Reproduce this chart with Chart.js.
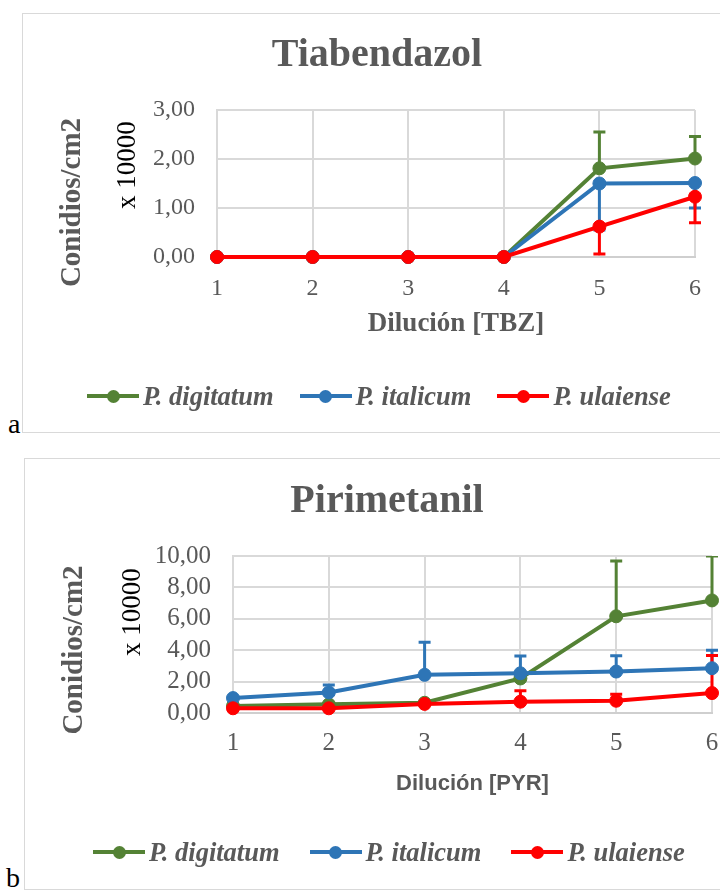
<!DOCTYPE html>
<html lang="es">
<head>
<meta charset="utf-8">
<title>Conidios/cm2 - Tiabendazol y Pirimetanil</title>
<script src="https://cdn.jsdelivr.net/npm/chart.js@4.4.1/dist/chart.umd.min.js"></script>
<style>
  html, body { margin: 0; padding: 0; background: #fff; }
  body { width: 720px; height: 890px; overflow: hidden; position: relative; font-family: "Liberation Serif", serif; }
  .frame { position: absolute; border: 1px solid #d9d9d9; background: #fff; }
  .frame canvas { display: block; }
  .legend { position: absolute; display: flex; align-items: center; height: 30px; line-height: 30px;
            font: italic bold 26.5px "Liberation Serif", serif; color: #595959; white-space: nowrap; }
  .legend .item { display: flex; align-items: center; }
  .legend .mark { position: relative; width: 52px; height: 4px; margin-right: 4px; }
  .legend .mark::after { content: ""; position: absolute; left: 19.5px; top: -4.5px; width: 13px; height: 13px;
                         border-radius: 50%; background: inherit; }
  .panel-label { position: absolute; font: 28px/28px "Liberation Serif", serif; color: #000; }
</style>
</head>
<body>

<div class="panel-label" style="left:8px; top:410px;">a</div>
<div class="frame" style="left:22px; top:13px;"><canvas id="chart-tbz" width="708" height="418"></canvas></div>
<div class="legend" id="legend-tbz" style="left:87px; top:381px;"></div>

<div class="panel-label" style="left:6px; top:864px;">b</div>
<div class="frame" style="left:24px; top:458px;"><canvas id="chart-pyr" width="724" height="430"></canvas></div>
<div class="legend" id="legend-pyr" style="left:93px; top:837px;"></div>

<script>
/* ---------- data ---------- */
const dilutions = ["1", "2", "3", "4", "5", "6"];
const speciesNames = ["P. digitatum", "P. italicum", "P. ulaiense"];
const speciesColors = ["#548235", "#2E75B6", "#FF0000"];

// Tiabendazol [TBZ]
const tbzDigitatum = [0, 0, 0, 0, 1.81, 2.01];
const tbzItalicum  = [0, 0, 0, 0, 1.50, 1.51];
const tbzUlaiense  = [0, 0, 0, 0, 0.62, 1.23];
const tbzDigitatumErrUp   = [0, 0, 0, 0, 0.74, 0.45];
const tbzItalicumErrDown  = [0, 0, 0, 0, 0.95, 0.51];
const tbzUlaienseErrDown  = [0, 0, 0, 0, 0.56, 0.53];
const tbzYTicks = [0, 1, 2, 3];

// Pirimetanil [PYR]
const pyrDigitatum = [0.45, 0.55, 0.65, 2.20, 6.16, 7.17];
const pyrItalicum  = [0.95, 1.31, 2.43, 2.53, 2.64, 2.85];
const pyrUlaiense  = [0.30, 0.30, 0.58, 0.72, 0.78, 1.27];
const pyrDigitatumErrUp = [0, 0, 0, 0, 3.52, 2.83];
const pyrItalicumErrUp  = [0, 0.48, 2.07, 1.10, 1.01, 1.14];
const pyrUlaienseErrUp  = [0, 0, 0, 0.69, 0.42, 2.40];
const pyrYTicks = [0, 2, 4, 6, 8, 10];

const TEXT = "#595959";
const GRID = "#d9d9d9";
const SERIF = "'Liberation Serif', serif";

Chart.defaults.font.family = SERIF;

/* error bars drawn under the lines, from the y scale */
const errorBars = {
  id: "errorBars",
  beforeDatasetsDraw(chart) {
    const { ctx, chartArea: a, scales: { y } } = chart;
    ctx.save();
    ctx.beginPath();
    ctx.rect(a.left - 20, a.top, a.right - a.left + 40, a.bottom - a.top + 20);
    ctx.clip();
    chart.data.datasets.forEach((ds, i) => {
      const pts = chart.getDatasetMeta(i).data;
      ctx.strokeStyle = ds.borderColor;
      ctx.lineWidth = 3;
      ds.data.forEach((v, j) => {
        [[ds.errUp, 1], [ds.errDown, -1]].forEach(([arr, sign]) => {
          if (!arr || !arr[j]) return;
          const x = pts[j].x;
          const y0 = y.getPixelForValue(v);
          const y1 = y.getPixelForValue(v + sign * arr[j]);
          ctx.beginPath();
          ctx.moveTo(x, y0); ctx.lineTo(x, y1);
          ctx.moveTo(x - 6, y1); ctx.lineTo(x + 6, y1);
          ctx.stroke();
        });
      });
    });
    ctx.restore();
  }
};

/* two-line vertical axis title (different styles per line) */
const sideTitle = {
  id: "sideTitle",
  afterDraw(chart, args, opts) {
    const ctx = chart.ctx;
    (opts.lines || []).forEach(l => {
      ctx.save();
      ctx.translate(l.x, l.y);
      ctx.rotate(-Math.PI / 2);
      ctx.font = l.font;
      ctx.fillStyle = l.color;
      ctx.textAlign = "center";
      ctx.textBaseline = "middle";
      ctx.fillText(l.text, 0, 0);
      ctx.restore();
    });
  }
};

function lineSet(idx, data, errUp, errDown){
  const c = speciesColors[idx];
  return {
    label: speciesNames[idx], data, errUp, errDown,
    borderColor: c, backgroundColor: c,
    pointBackgroundColor: c, pointBorderColor: c,
    borderWidth: 4, pointRadius: 6.5, pointBorderWidth: 1,
    tension: 0, clip: false, order: 3 - idx
  };
}

function makeChart(id, o){
  const step = o.yTicks[1] - o.yTicks[0];
  return new Chart(document.getElementById(id), {
    type: "line",
    data: { labels: dilutions, datasets: o.datasets },
    plugins: [errorBars, sideTitle],
    options: {
      responsive: false,
      animation: false,
      layout: { padding: { left: o.padLeft, top: 0, right: o.padRight, bottom: o.padBottom } },
      plugins: {
        legend: { display: false },
        tooltip: { enabled: false },
        title: {
          display: true, text: o.title, color: TEXT,
          font: { family: SERIF, size: 40, weight: "bold" },
          padding: { top: o.titleTop, bottom: 30 }
        },
        sideTitle: {
          lines: [
            { text: "Conidios/cm2", font: "bold 29px " + SERIF, color: TEXT, x: 50, y: o.yTitleY },
            { text: "x 10000", font: "27px " + SERIF, color: "#000", x: o.xTenX, y: o.xTenY }
          ]
        }
      },
      scales: {
        x: {
          grid: { color: GRID, lineWidth: 2, drawTicks: false },
          border: { color: "#cfcfcf", width: 2 },
          ticks: { color: TEXT, font: { size: o.tickSize }, padding: o.xTickPad, maxRotation: 0, autoSkip: false },
          title: { display: true, text: o.xTitle, color: TEXT, font: o.xTitleFont, padding: 0 },
          afterFit: s => { s.height = o.xHeight; }
        },
        y: {
          min: o.yTicks[0], max: o.yTicks[o.yTicks.length - 1],
          grid: { color: GRID, lineWidth: 2, drawTicks: false },
          border: { color: GRID, width: 2 },
          ticks: {
            stepSize: step, autoSkip: false, color: TEXT, font: { size: o.tickSize }, padding: 22,
            callback: v => v.toFixed(2).replace(".", ",")
          },
          afterFit: s => { s.width = o.yWidth; }
        }
      }
    }
  });
}

function makeLegend(id, gap){
  const el = document.getElementById(id);
  speciesNames.forEach((name, i) => {
    const item = document.createElement("span");
    item.className = "item";
    if (i < speciesNames.length - 1) item.style.marginRight = gap + "px";
    const mark = document.createElement("span");
    mark.className = "mark";
    mark.style.background = speciesColors[i];
    const txt = document.createElement("span");
    txt.textContent = name;
    item.appendChild(mark);
    item.appendChild(txt);
    el.appendChild(item);
  });
}

makeChart("chart-tbz", {
  title: "Tiabendazol",
  xTitle: "Dilución [TBZ]",
  xTitleFont: { family: SERIF, size: 27, weight: "bold" },
  yTicks: tbzYTicks,
  datasets: [
    lineSet(0, tbzDigitatum, tbzDigitatumErrUp, null),
    lineSet(1, tbzItalicum, null, tbzItalicumErrDown),
    lineSet(2, tbzUlaiense, null, tbzUlaienseErrDown)
  ],
  titleTop: 18, padLeft: 36, padRight: 36, padBottom: 92,
  yWidth: 158, xHeight: 83, xTickPad: 17, tickSize: 24,
  yTitleY: 188.5, xTenX: 104.5, xTenY: 151
});

makeChart("chart-pyr", {
  title: "Pirimetanil",
  xTitle: "Dilución [PYR]",
  xTitleFont: { family: "'Liberation Sans', sans-serif", size: 22, weight: "bold" },
  yTicks: pyrYTicks,
  datasets: [
    lineSet(0, pyrDigitatum, pyrDigitatumErrUp, null),
    lineSet(1, pyrItalicum, pyrItalicumErrUp, null),
    lineSet(2, pyrUlaiense, pyrUlaienseErrUp, null)
  ],
  titleTop: 19, padLeft: 37, padRight: 37, padBottom: 92,
  yWidth: 171, xHeight: 84, xTickPad: 15, tickSize: 25,
  yTitleY: 191, xTenX: 107.5, xTenY: 153
});

makeLegend("legend-tbz", 26);
makeLegend("legend-pyr", 30);
</script>
</body>
</html>
